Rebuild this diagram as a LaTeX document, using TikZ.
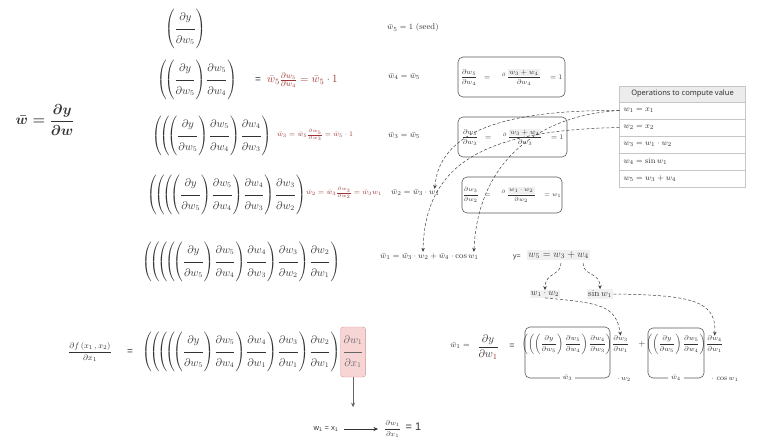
\documentclass[tikz,border=0pt]{standalone}
\usepackage{amsmath}
\usepackage{fontspec}
\newfontfamily\hdr{Noto Sans}
\newfontfamily\arialf{Liberation Sans}
\usetikzlibrary{arrows.meta}
\definecolor{redt}{HTML}{9E3535}
\definecolor{txt}{HTML}{333333}
\definecolor{pinkf}{HTML}{F8D5D5}
\definecolor{pinkd}{HTML}{D89090}
\newcommand{\pf}[2]{\dfrac{\partial #1\vphantom{\Big|}}{\partial #2\vphantom{\Big|}}}
\newcommand{\pfs}[2]{\dfrac{\partial #1\vphantom{\big|}}{\partial #2\vphantom{\big|}}}
\newcommand{\hl}[1]{{\setlength{\fboxsep}{1.2pt}\colorbox{gray!12}{$#1$}}}
\newcommand{\fs}[1]{\fontsize{#1}{#1}\selectfont}
\newcommand{\LL}{\left(\!}
\newcommand{\LI}{\left(}
\newcommand{\RR}{\right)\mspace{-1.5mu}}
\begin{document}
\begin{tikzpicture}[x=1pt,y=-1pt,
  every node/.style={inner sep=0pt, text=txt},
  main/.style={font=\fs{10.5}, anchor=west},
  redsm/.style={text=redt, font=\fs{7}, anchor=west},
  mid/.style={font=\fs{8.5}},
  pbox/.style={draw=gray!70!black, rounded corners=5pt, line width=0.6pt},
  darr/.style={densely dashed, line width=0.5pt, draw=black!75, -{Stealth[length=4pt,width=3.5pt]}},
  cell/.style={draw=gray!45, fill=white, minimum width=126pt, minimum height=17pt, text width=118pt, align=left, font=\fs{8}},
  sarr/.style={line width=0.6pt, draw=black!80, -{Stealth[length=4.5pt,width=4pt]}},
]
\useasboundingbox (0,0) rectangle (773,446);

% left big formula
\node (wbar) at (45,120) {\fs{15}$\boldsymbol{\bar w = \dfrac{\partial y}{\partial w}}$};

% stacked rows
\node[main] (r1) at (165,29) {$\LI\pf{y}{w_5}\right)$};
\node[main] (r2) at (157,80) {$\LL\LI\pf{y}{w_5}\RR\pf{w_5}{w_4}\right)$};
\node[main] (r3) at (152,136) {$\LL\LL\LI\pf{y}{w_5}\RR\pf{w_5}{w_4}\RR\pf{w_4}{w_3}\right)$};
\node[main] (r4) at (147,195) {$\LL\LL\LL\LI\pf{y}{w_5}\RR\pf{w_5}{w_4}\RR\pf{w_4}{w_3}\RR\pf{w_3}{w_2}\right)$};
\node[main] (r5) at (142,262) {$\LL\LL\LL\LL\LI\pf{y}{w_5}\RR\pf{w_5}{w_4}\RR\pf{w_4}{w_3}\RR\pf{w_3}{w_2}\RR\pf{w_2}{w_1}\right)$};

% red annotations
\node[font=\arialf\fs{10}] (eq2) at (258,80) {=};
\node[anchor=west, text=redt, font=\fs{11}] (red2) at (267,80) {$\bar w_5\frac{\partial w_5}{\partial w_4}=\bar w_5\cdot 1$};
\node[redsm] (red3) at (277,135) {$\bar w_3=\bar w_5\frac{\partial w_5}{\partial w_3}=\bar w_5\cdot 1$};
\node[redsm] (red4) at (306,193) {$\bar w_2=\bar w_3\frac{\partial w_3}{\partial w_2}=\bar w_3 w_1$};

% middle column
\node[mid, anchor=west] (s5) at (387,28) {$\bar w_5 = 1\ (\mathrm{seed})$};
\node[mid, anchor=west] (s4) at (388,77) {$\bar w_4=\bar w_5$};
\node[mid, anchor=west] (s3) at (388,136) {$\bar w_3=\bar w_5$};
\node[mid, anchor=west] (s2) at (391,193) {$\bar w_2=\bar w_3\cdot w_1$};
\node[mid, anchor=west] (s1) at (380,257) {$\bar w_1=\bar w_3\cdot w_2+\bar w_4\cdot\cos w_1$};
\coordinate (t2) at ([xshift=-5pt,yshift=1pt]s2.north east);
\coordinate (t1a) at ([xshift=43pt,yshift=2pt]s1.north west);
\coordinate (t1b) at ([xshift=-5pt,yshift=2pt]s1.north east);

% derivative boxes
\node[pbox, minimum width=107pt, minimum height=40pt, font=\fs{7}] (b1) at (511.5,77)
  {$\dfrac{\partial w_5}{\partial w_4}\;\;=\;\;\;\; {}^{\partial\;}\!\dfrac{\hl{w_3+w_4}}{\partial w_4}\;\;\;=1$};
\node[pbox, minimum width=109pt, minimum height=40pt, font=\fs{7}] (b2) at (512.5,137)
  {$\dfrac{\partial w_5}{\partial w_3}\;\;=\;\;\;\; {}^{\partial\;}\!\dfrac{\hl{w_3+w_4}}{\partial w_3}\;\;\;=1$};
\node[pbox, minimum width=100pt, minimum height=36pt, font=\fs{6.5}] (b3) at (512,195)
  {$\dfrac{\partial w_3}{\partial w_2}\;\;=\;\;\;\; {}^{\partial\;}\!\dfrac{\hl{w_1\cdot w_2}}{\partial w_2}\;\;\;=w_1$};

% table
\node[draw=gray!45, fill=gray!15, minimum width=126pt, minimum height=16pt, font=\hdr\bfseries\fs{7.5}] (th) at (682.5,94) {Operations to compute value};
\node[cell] (c1) at (682.5,110.5) {$w_1 = x_1$};
\node[cell] (c2) at (682.5,127.5) {$w_2 = x_2$};
\node[cell] (c3) at (682.5,144.5) {$w_3 = w_1\cdot w_2$};
\node[cell] (c4) at (682.5,161.5) {$w_4 = \sin w_1$};
\node[cell] (c5) at (682.5,178.5) {$w_5 = w_3 + w_4$};

% dashed connectors from table
\draw[darr] (c1.west) .. controls (520,110) and (440,125) .. (t2);
\draw[darr] (c1.west) .. controls (540,115) and (478,160) .. (t1b);
\draw[darr] (c2.west) .. controls (490,130) and (425,160) .. (t1a);

% y = w5 tree
\node[font=\arialf\fs{7}, anchor=west] (yeq) at (513,257) {y=};
\node[font=\fs{10}, anchor=west] (w5eq) at (527,255) {\hl{w_5 = w_3 + w_4}};
\coordinate (w3b) at (561,263);
\coordinate (w4b) at (583,263);
\node[font=\fs{9}] (w12) at (545,294) {\hl{w_1\cdot w_2}};
\node[font=\fs{9}] (sinw) at (600,294) {\hl{\sin w_1}};
\draw[darr] (w3b) .. controls (561,276) and (545,272) .. (w12.north);
\draw[darr] (w4b) .. controls (583,276) and (600,272) .. (sinw.north);

% bottom right
\node[mid] (w1bar) at (460,346) {$\bar w_1 =$};
\node[font=\fs{11}] (dydw1) at (488,347) {$\dfrac{\partial y}{\partial w_{\color{redt}1}}$};
\node[font=\arialf\fs{9}] (eqA) at (512,346) {=};
\node[pbox, minimum width=85pt, minimum height=51pt] (boxA) at (567.5,352.5) {};
\node[font=\fs{6.8}] (cA) at (567,344) {$\left(\left(\left(\pfs{y}{w_5}\right)\pfs{w_5}{w_4}\right)\pfs{w_4}{w_3}\right)$};
\node[fill=white, inner xsep=3pt, font=\fs{7.5}] (lA) at (boxA.south) {$\bar w_3$};
\node[anchor=west, font=\fs{7.5}] (fA) at (612,344) {$\dfrac{\partial w_3}{\partial w_1}$};
\node[font=\fs{7.5}] (dotA) at (624,379) {$\cdot\, w_2$};
\node[font=\fs{9}] (plus) at (642,344) {$+$};
\node[pbox, minimum width=56pt, minimum height=50pt] (boxB) at (676,353) {};
\node[font=\fs{6.8}] (cB) at (676,344) {$\left(\left(\pfs{y}{w_5}\right)\pfs{w_5}{w_4}\right)$};
\node[fill=white, inner xsep=3pt, font=\fs{7.5}] (lB) at (boxB.south) {$\bar w_4$};
\node[anchor=west, font=\fs{7.5}] (fB) at (706,344) {$\dfrac{\partial w_4}{\partial w_1}$};
\node[font=\fs{7.5}] (dotB) at (725,379) {$\cdot\,\cos w_1$};
\draw[darr] (w12.south) .. controls (600,303) and (616,305) .. (fA.north);
\draw[darr] (sinw.east) .. controls (690,295) and (717,300) .. (fB.north);

% row 6
\node[font=\fs{8}] (dfdx) at (90,352) {$\dfrac{\partial f\left(x_1\,,x_2\right)}{\partial x_1}$};
\node[font=\arialf\fs{10}] (eq6) at (130,352) {=};
\node[main] (r6) at (142,352) {$\LL\LL\LL\LL\LI\pf{y}{w_5}\RR\pf{w_5}{w_4}\RR\pf{w_4}{w_1}\RR\pf{w_3}{w_1}\RR\pf{w_2}{w_1}\right)$};
\node[anchor=west, draw=pinkd, fill=pinkf, rounded corners=3pt, minimum height=50pt, inner xsep=2pt, text=gray!80!black, font=\fs{10.5}] (pink) at (r6.east) {$\pf{w_1}{x_1}$};
\coordinate (pt) at ([yshift=-30pt]pink.south);
\draw[sarr, draw=gray!80!black] (pink.south) -- (pt);
\node[font=\arialf\fs{7.5}, inner xsep=6pt] (w1x1) at (326,429) {w\textsubscript{1} = x\textsubscript{1}};
\node[anchor=west, inner xsep=6pt] (res) at (378,429) {{\fs{7}$\dfrac{\partial w_1}{\partial x_1}$}\,{\arialf\fs{11} = 1}};
\draw[sarr] (w1x1.east) -- (res.west);
\end{tikzpicture}
\end{document}
